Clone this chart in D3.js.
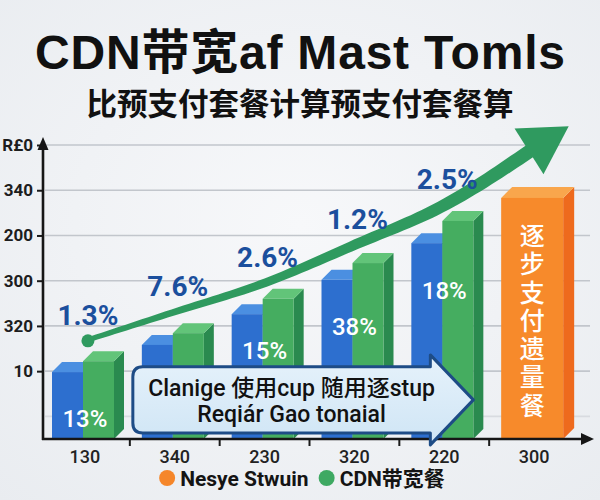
<!DOCTYPE html>
<html>
<head>
<meta charset="utf-8">
<script src="https://cdn.jsdelivr.net/npm/d3@7"></script>
<style>
  body { margin: 0; background: #eff1f4; }
  svg { display: block; }
</style>
</head>
<body>
<svg width="600" height="500"></svg>
<script>
const categories = ['130', '340', '230', '320', '220', '300']
const blueValues = [1.48, 2.08, 2.76, 3.52, 4.33, null]
const greenValues = [1.72, 2.34, 3.10, 3.89, 4.82, null]
const orangeValues = [null, null, null, null, null, 5.33]
const trendValues = [2.17, 2.81, 3.45, 4.29, 5.17, 6.43]
const growthLabels = ['1.3%', '7.6%', '2.6%', '1.2%', '2.5%']
const barLabels = ['13%', null, '15%', '38%', '18%', null]
const yTickValues = [1.5, 2.5, 3.5, 4.5, 5.5, 6.5]
const yTickLabels = ['10', '320', '300', '200', '340', 'R£0']
const legendLabels = ['Nesye Stwuin', 'CDN带宽餐']
const legendColors = ['#f5862a', '#3ea962']
const orangeText = '逐步支付遗量餐'
const calloutLines = ['Clanige 使用cup 随用逐stup', 'Reqiár Gao tonaial']

const latin = "Roboto, 'Liberation Sans', 'Noto Sans CJK SC', sans-serif"
const cjk = "'Noto Sans CJK SC', sans-serif"

const svg = d3.select('svg')
const width = +svg.attr('width')
const height = +svg.attr('height')

const defs = svg.append('defs')
const bg = defs.append('radialGradient').attr('id', 'bg')
  .attr('cx', '50%').attr('cy', '45%').attr('r', '75%')
bg.append('stop').attr('offset', '0%').attr('stop-color', '#f7f8fa')
bg.append('stop').attr('offset', '100%').attr('stop-color', '#e9ecf0')
const cg = defs.append('linearGradient').attr('id', 'callout')
  .attr('x1', 0).attr('y1', 0).attr('x2', 0).attr('y2', 1)
cg.append('stop').attr('offset', '0%').attr('stop-color', '#e6f2fb')
cg.append('stop').attr('offset', '100%').attr('stop-color', '#cfe5f5')

svg.append('rect').attr('width', width).attr('height', height).attr('fill', 'url(#bg)')

const x = d3.scaleBand().domain(categories).range([40, 579])
const sub = d3.scaleBand().domain(['blue', 'green']).range([12, 74])
const y = d3.scaleLinear().domain([0, 6.5]).range([439, 145])
const bw = x.bandwidth()
const depth = 10

// grid
const gridValues = [0.5].concat(yTickValues)
svg.append('g').selectAll('line')
  .data(gridValues)
  .enter().append('line')
  .attr('x1', 45).attr('x2', 590)
  .attr('y1', d => y(d)).attr('y2', d => y(d))
  .attr('stroke', d => d < 1 ? '#d8dbe0' : '#c2c6cc')
  .attr('stroke-width', 1.6)

const blueCol = { front: '#2d6fcf', top: '#4b8fe1', side: '#1f56a8' }
const greenCol = { front: '#45ad60', top: '#62c479', side: '#2a8a4f' }
const orangeCol = { front: '#f78a2b', top: '#f9a64c', side: '#ee6a1d' }

function drawBar (g, x0, w, v, d, col) {
  const yt = y(v)
  const yb = y(0)
  g.append('path')
    .attr('d', 'M' + (x0 + w) + ',' + yt + 'L' + (x0 + w + d) + ',' + (yt - d) +
      'L' + (x0 + w + d) + ',' + (yb - d) + 'L' + (x0 + w) + ',' + yb + 'Z')
    .attr('fill', col.side)
  g.append('path')
    .attr('d', 'M' + x0 + ',' + yt + 'L' + (x0 + w) + ',' + yt + 'L' + (x0 + w + d) + ',' + (yt - d) +
      'L' + (x0 + d) + ',' + (yt - d) + 'Z')
    .attr('fill', col.top)
  g.append('rect')
    .attr('x', x0).attr('y', yt)
    .attr('width', w).attr('height', yb - yt)
    .attr('fill', col.front)
}

const bars = svg.append('g')
categories.forEach(function (c, i) {
  if (blueValues[i] != null) drawBar(bars, x(c) + sub('blue'), sub.bandwidth(), blueValues[i], depth, blueCol)
  if (greenValues[i] != null) drawBar(bars, x(c) + sub('green'), sub.bandwidth(), greenValues[i], depth, greenCol)
  if (orangeValues[i] != null) drawBar(bars, x(c) + sub('blue'), sub.bandwidth() * 2, orangeValues[i], depth + 1, orangeCol)
})

// callout box geometry (annotation anchored to the bands)
const cl = x(categories[1]) + 3
const cr = x(categories[4]) + 31
const ctip = x(categories[4]) + 74
const ct = y(1.6)
const cb = y(0.13)
const cy = (ct + cb) / 2
const rr = 10

// white labels in bars
svg.append('g').selectAll('text')
  .data(categories.filter((c, i) => barLabels[i]))
  .enter().append('text')
  .attr('x', c => x(c) + bw / 2)
  .attr('y', function (c) {
    const i = categories.indexOf(c)
    const yl = y(blueValues[i]) + 47
    return i >= 1 && i <= 4 ? Math.min(yl, ct - 16) : yl
  })
  .attr('dy', '0.35em')
  .attr('text-anchor', 'middle')
  .attr('font-family', latin).attr('font-weight', 500).attr('font-size', 24)
  .attr('fill', '#ffffff')
  .text(c => barLabels[categories.indexOf(c)])

// vertical text in orange bar
const oi = orangeValues.findIndex(v => v != null)
svg.append('text')
  .attr('x', x(categories[oi]) + sub('blue') + sub.bandwidth())
  .attr('y', y(orangeValues[oi]) + 25)
  .attr('writing-mode', 'vertical-rl')
  .style('writing-mode', 'vertical-rl')
  .attr('font-family', cjk).attr('font-weight', 500).attr('font-size', 25)
  .attr('letter-spacing', 3.3)
  .attr('fill', '#ffffff')
  .text(orangeText)

// trend arrow
const trendPts = categories.map((c, i) => [x(c) + bw / 2, y(trendValues[i])])
const line = d3.line().curve(d3.curveMonotoneX)
const tmp = svg.append('path').attr('d', line(trendPts)).attr('fill', 'none')
const len = tmp.node().getTotalLength()
const n = 80
const left = []
const right = []
for (let k = 0; k <= n; k++) {
  const t = k / n
  const p = tmp.node().getPointAtLength(t * len)
  const q = tmp.node().getPointAtLength(Math.min(len, t * len + 1))
  const p0 = tmp.node().getPointAtLength(Math.max(0, t * len - 1))
  let dx = q.x - p0.x
  let dy = q.y - p0.y
  const m = Math.sqrt(dx * dx + dy * dy)
  dx /= m; dy /= m
  const w = (5 + 9 * t) / 2
  left.push([p.x - dy * w, p.y + dx * w])
  right.push([p.x + dy * w, p.y - dx * w])
}
tmp.remove()
const arrowColor = '#2f9a5f'
svg.append('path')
  .attr('d', 'M' + left.concat(right.reverse()).map(p => p.join(',')).join('L') + 'Z')
  .attr('fill', arrowColor)
const end = trendPts[trendPts.length - 1]
const prev = trendPts[trendPts.length - 2]
let ux = end[0] - prev[0]
let uy = end[1] - prev[1]
const um = Math.sqrt(ux * ux + uy * uy)
ux /= um; uy /= um
const bx = end[0] - ux * 6
const by = end[1] - uy * 6
svg.append('path')
  .attr('d', 'M' + (end[0] + ux * 41) + ',' + (end[1] + uy * 41) +
    'L' + (bx - uy * 27) + ',' + (by + ux * 27) +
    'L' + (bx + uy * 27) + ',' + (by - ux * 27) + 'Z')
  .attr('fill', arrowColor)
svg.append('circle')
  .attr('cx', trendPts[0][0] + 3).attr('cy', trendPts[0][1])
  .attr('r', 6.5).attr('fill', arrowColor)

// growth labels
svg.append('g').selectAll('text')
  .data(growthLabels)
  .enter().append('text')
  .attr('x', (d, i) => trendPts[i][0] + 3)
  .attr('y', (d, i) => trendPts[i][1] - 26)
  .attr('dy', '0.35em')
  .attr('text-anchor', 'middle')
  .attr('font-family', latin).attr('font-weight', 700).attr('font-size', 28)
  .attr('fill', '#1b4f9d')
  .text(d => d)

// axes
const yAxis = d3.axisLeft(y)
  .tickValues(yTickValues)
  .tickFormat((d, i) => yTickLabels[i])
  .tickSize(6)
  .tickPadding(4)
const gy = svg.append('g').attr('transform', 'translate(43,0)').call(yAxis)
gy.select('.domain').remove()
gy.selectAll('line').attr('stroke', '#1a1a1a').attr('stroke-width', 2)
gy.selectAll('text')
  .attr('font-family', latin).attr('font-weight', 700).attr('font-size', 17)
  .attr('fill', '#1d1d1d')

const xAxis = d3.axisBottom(x).tickSize(0).tickPadding(11)
const gx = svg.append('g').attr('transform', 'translate(0,439)').call(xAxis)
gx.select('.domain').remove()
gx.selectAll('text')
  .attr('font-family', latin).attr('font-weight', 500).attr('font-size', 18)
  .attr('fill', '#222222')
gx.selectAll('.sep')
  .data(categories.slice(0, -1))
  .enter().append('line')
  .attr('class', 'sep')
  .attr('x1', c => x(c) + bw).attr('x2', c => x(c) + bw)
  .attr('y1', 0).attr('y2', 7)
  .attr('stroke', '#1a1a1a').attr('stroke-width', 2)

const axisColor = '#161616'
svg.append('line')
  .attr('x1', 43).attr('x2', 43).attr('y1', y(0) + 1).attr('y2', y(6.5) - 3)
  .attr('stroke', axisColor).attr('stroke-width', 2.6)
svg.append('path')
  .attr('d', 'M43,' + (y(6.5) - 8) + 'L37.5,' + (y(6.5) + 5) + 'L48.5,' + (y(6.5) + 5) + 'Z')
  .attr('fill', axisColor)
svg.append('line')
  .attr('x1', 42).attr('x2', 586).attr('y1', y(0)).attr('y2', y(0))
  .attr('stroke', axisColor).attr('stroke-width', 2.6)
svg.append('path')
  .attr('d', 'M594,' + y(0) + 'L581,' + (y(0) - 6) + 'L581,' + (y(0) + 6) + 'Z')
  .attr('fill', axisColor)

// callout
svg.append('path')
  .attr('d', 'M' + (cl + rr) + ',' + ct + 'L' + cr + ',' + ct + 'L' + cr + ',' + (cy - 45) +
    'L' + ctip + ',' + cy + 'L' + cr + ',' + (cy + 45) + 'L' + cr + ',' + cb +
    'L' + (cl + rr) + ',' + cb + 'Q' + cl + ',' + cb + ' ' + cl + ',' + (cb - rr) +
    'L' + cl + ',' + (ct + rr) + 'Q' + cl + ',' + ct + ' ' + (cl + rr) + ',' + ct + 'Z')
  .attr('fill', 'url(#callout)')
  .attr('stroke', '#1e4c86').attr('stroke-width', 3).attr('stroke-linejoin', 'round')
svg.append('g').selectAll('text')
  .data(calloutLines)
  .enter().append('text')
  .attr('x', (cl + cr) / 2 + 10)
  .attr('y', (d, i) => cy - 4 + i * 26)
  .attr('text-anchor', 'middle')
  .attr('font-family', latin).attr('font-weight', 500).attr('font-size', 23)
  .attr('fill', '#111111')
  .text(d => d)

// legend
const legend = svg.append('g')
let lx = 0
legendLabels.forEach(function (name, i) {
  legend.append('circle').attr('cx', lx + 8).attr('cy', 0).attr('r', 8).attr('fill', legendColors[i])
  const t = legend.append('text')
    .attr('x', lx + 21).attr('y', 0).attr('dy', '0.36em')
    .attr('font-family', latin).attr('font-weight', 700).attr('font-size', 21)
    .attr('fill', '#141414')
    .text(name)
  lx += 21 + t.node().getComputedTextLength() + 10
})
lx -= 10
legend.attr('transform', 'translate(' + (302 - lx / 2) + ',478)')

// titles
svg.append('text')
  .attr('x', width / 2).attr('y', 69)
  .attr('text-anchor', 'middle')
  .attr('font-family', "'Liberation Sans', 'Noto Sans CJK SC', sans-serif")
  .attr('font-weight', 700).attr('font-size', 48)
  .attr('fill', '#111111')
  .attr('textLength', 530).attr('lengthAdjust', 'spacing')
  .text('CDN带宽af Mast Tomls')
svg.append('text')
  .attr('x', width / 2).attr('y', 115)
  .attr('text-anchor', 'middle')
  .attr('font-family', cjk).attr('font-weight', 700).attr('font-size', 30.5)
  .attr('fill', '#111111')
  .text('比预支付套餐计算预支付套餐算')
</script>
</body>
</html>
